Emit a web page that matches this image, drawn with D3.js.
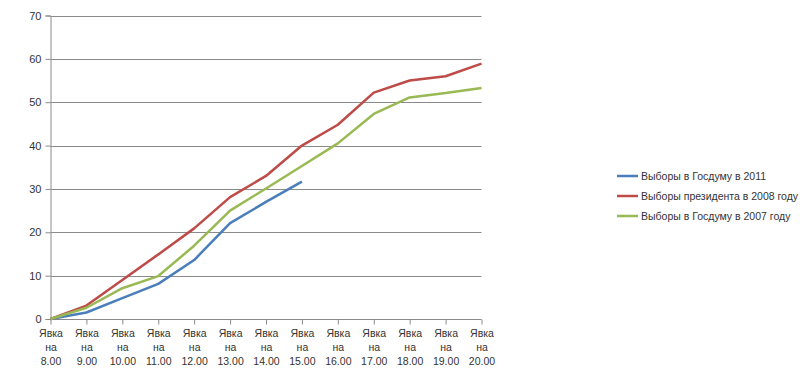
<!DOCTYPE html>
<html><head><meta charset="utf-8">
<script src="https://cdn.jsdelivr.net/npm/d3@7"></script>
<style>body{margin:0;background:#fff}svg{display:block}</style>
</head><body><svg id="c" width="800" height="379"></svg>
<script>
const categories = ["8.00","9.00","10.00","11.00","12.00","13.00","14.00","15.00","16.00","17.00","18.00","19.00","20.00"];
const seriesNames = ["Выборы в Госдуму в 2011","Выборы президента в 2008 году","Выборы в Госдуму в 2007 году"];
const duma2011 = [0,1.5,4.8,8.1,13.6,22.1,27,31.7];
const pres2008 = [0,3.1,9.0,14.9,20.9,28.1,33,40,44.8,52.2,55,56,58.9];
const duma2007 = [0,2.6,7.1,9.9,16.9,25,30.1,35.3,40.5,47.3,51.1,52.1,53.3];
const yTicks = [0,10,20,30,40,50,60,70];
const colors = ["#4a7ebb","#be4b48","#98b954"];

const svg = d3.select("#c");
const font = "'Liberation Sans', Arial, sans-serif";
const x = d3.scalePoint().domain(categories).range([50.5,481.5]);
const y = d3.scaleLinear().domain([0,70]).range([319,15.5]);

// gridlines
svg.append("g").selectAll("line").data(yTicks.filter(d=>d>0)).join("line")
  .attr("x1",50.5).attr("x2",481.5).attr("y1",d=>Math.round(y(d))+0.5).attr("y2",d=>Math.round(y(d))+0.5)
  .attr("stroke","#8a8a8a").attr("stroke-width",1);

// y axis
const ya = svg.append("g").attr("transform","translate(50.5,0)")
  .call(d3.axisLeft(y).tickValues(yTicks).tickSize(5).tickPadding(4).tickFormat(d3.format("d")));
ya.select(".domain").attr("stroke","#8a8a8a");
ya.selectAll(".tick line").attr("stroke","#8a8a8a").attr("x2",-5);
ya.selectAll("text").attr("font-family",font).attr("font-size",11).attr("fill","#333");

// x axis
const xa = svg.append("g").attr("transform","translate(0,319.5)")
  .call(d3.axisBottom(x).tickSize(5).tickFormat(""));
xa.select(".domain").attr("stroke","#8a8a8a").attr("d","M50.5,0H481.5");
xa.selectAll(".tick line").attr("stroke","#8a8a8a");
xa.selectAll(".tick").each(function(d){
  const t = d3.select(this).append("text").attr("font-family",font).attr("font-size",10.5)
    .attr("fill","#333").attr("text-anchor","middle");
  ["Явка","на",d].forEach((s,i)=>t.append("tspan").attr("x",0).attr("y",17+i*14).text(s));
});

// lines
const line = d3.line().x((d,i)=>x(categories[i])).y(d=>y(d));
[duma2011,pres2008,duma2007].forEach((s,k)=>{
  svg.append("path").datum(s).attr("d",line).attr("fill","none")
    .attr("stroke",colors[k]).attr("stroke-width",2.5).attr("stroke-linejoin","round");
});

// legend
const lg = svg.append("g");
seriesNames.forEach((n,i)=>{
  const yy = 176 + i*20;
  lg.append("line").attr("x1",617).attr("x2",638).attr("y1",yy).attr("y2",yy)
    .attr("stroke",colors[i]).attr("stroke-width",2.5);
  lg.append("text").attr("x",641).attr("y",yy+4).attr("font-family",font).attr("font-size",10.5)
    .attr("fill","#333").text(n);
});
</script></body></html>
